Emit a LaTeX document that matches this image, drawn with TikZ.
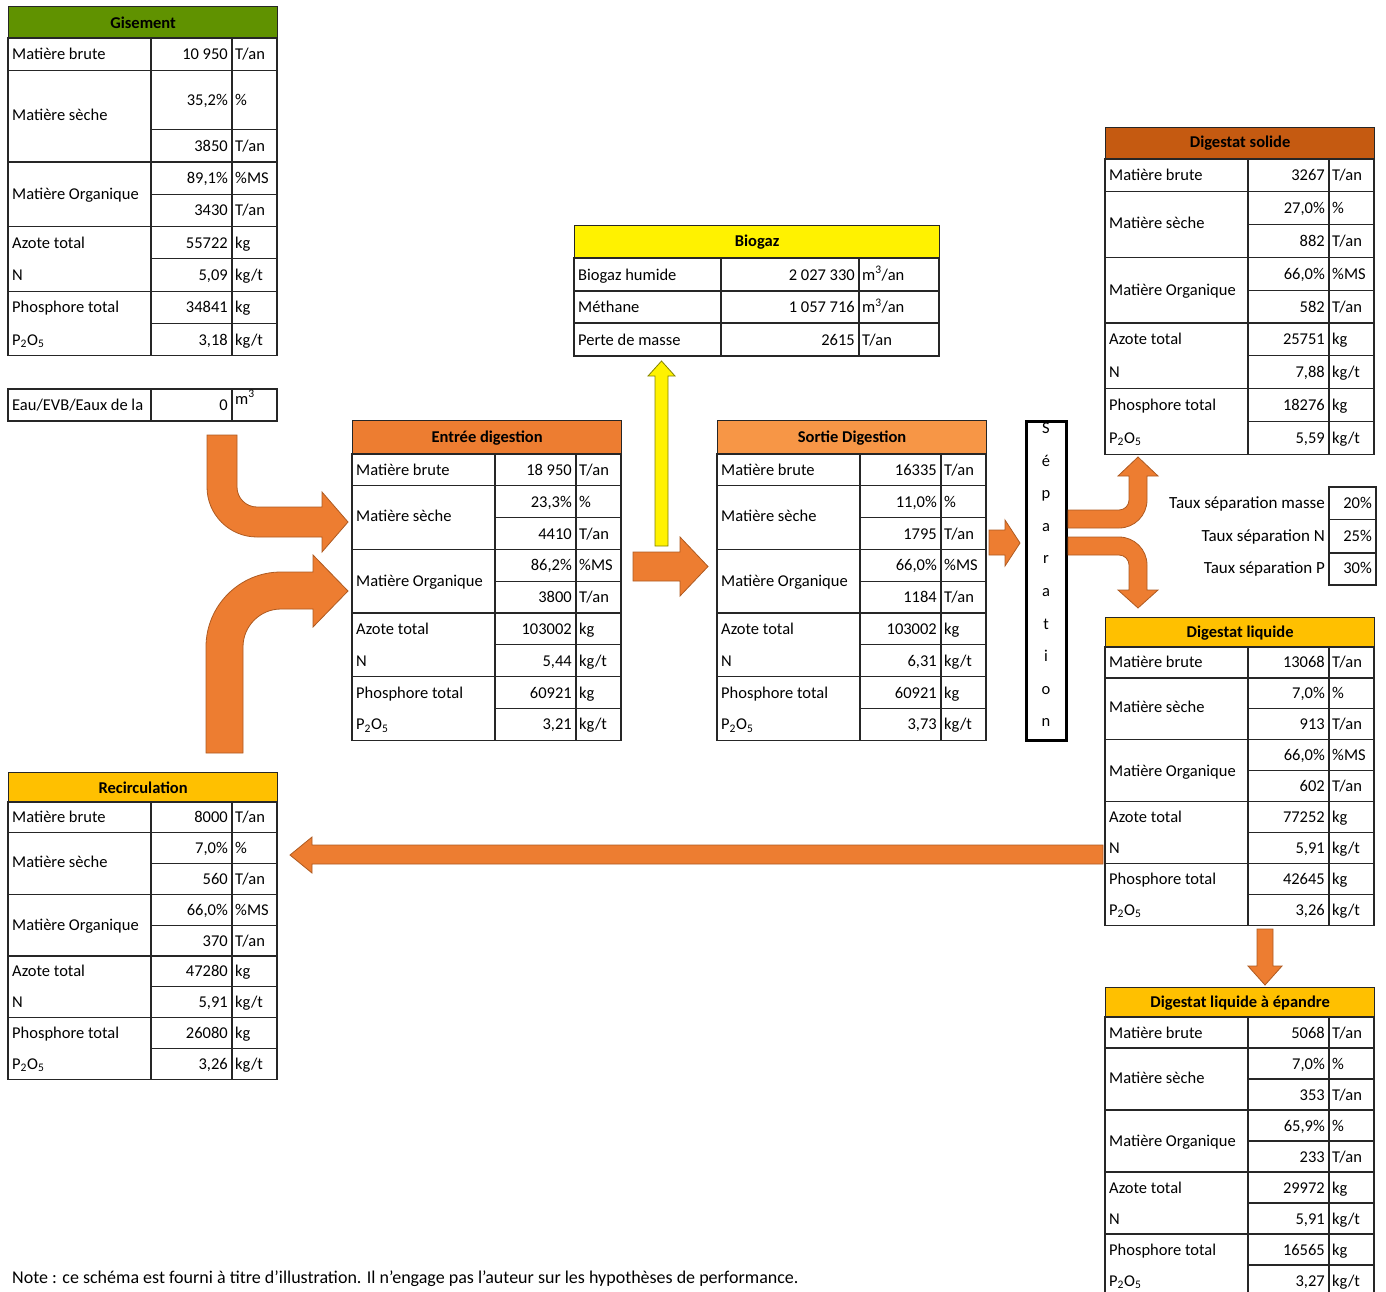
\documentclass[tikz,border=0pt]{standalone}
\usepackage{fontspec}
\setmainfont{Carlito}
\usepackage{xcolor}
\definecolor{gisvert}{RGB}{96,146,0}
\definecolor{entorange}{RGB}{237,125,49}
\definecolor{sortorange}{RGB}{247,150,70}
\definecolor{solbrun}{RGB}{197,90,17}
\definecolor{liqor}{RGB}{255,192,0}
\definecolor{flecheorange}{RGB}{237,125,49}
\definecolor{flechebord}{RGB}{174,90,33}
\definecolor{jaunebord}{RGB}{130,130,0}
\newcommand{\taille}{\fontsize{16.5}{19}\selectfont}

\tikzset{
  grille/.style={draw=black!85, line width=1.2pt},
  entete/.style={draw=black!85, line width=1.2pt, font=\taille\bfseries, inner sep=0pt, minimum width=269},
  lib/.style={anchor=base west, inner sep=0pt},
  val/.style={anchor=base east, inner sep=0pt},
  unite/.style={anchor=base west, inner sep=0pt},
  fleche/.style={fill=flecheorange, draw=flechebord, line width=0.8pt},
  flechejaune/.style={fill=yellow, draw=jaunebord, line width=0.8pt}
}

% #1 nom, #2 x, #3 y, #4 haut. entete, #5 haut. ligne, #6 couleur, #7 titre, #8 valeurs, #9 surplus MS
\newcommand{\bilan}[9]{%
  \begin{scope}[shift={(#2,#3)}]
    \node[entete, fill=#6, minimum height=#4, anchor=north west] (#1) at (0,0) {#7};
    \draw[grille] (0,#4) rectangle (269,{#4+9*#5+#9})
      (143,#4) -- (143,{#4+9*#5+#9}) (224,#4) -- (224,{#4+9*#5+#9});
    \foreach \k in {1,3,5,7}
      \draw[grille] (0,{#4+\k*#5+(\k>1)*#9}) -- (269,{#4+\k*#5+(\k>1)*#9});
    \foreach \k in {2,4,6,8}
      \draw[grille] (143,{#4+\k*#5+#9}) -- (269,{#4+\k*#5+#9});
    \node[lib] (#1-mb) at (4,{#4+0.5*#5+5.5}) {Matière brute};
    \node[lib] (#1-ms) at (4,{#4+2*#5+0.5*#9+4}) {Matière sèche};
    \node[lib] (#1-mo) at (4,{#4+4*#5+#9+5.5}) {Matière Organique};
    \node[lib] (#1-az) at (4,{#4+5.5*#5+#9+5.5}) {Azote total};
    \node[lib] (#1-n) at (4,{#4+6.5*#5+#9+5.5}) {N};
    \node[lib] (#1-ph) at (4,{#4+7.5*#5+#9+5.5}) {Phosphore total};
    \node[lib] (#1-p) at (4,{#4+8.5*#5+#9+5.5}) {P\textsubscript{2}O\textsubscript{5}};
    \foreach \vl/\un [count=\row] in {#8} {
      \node[val] (#1-v\row) at (220,{#4+(\row-0.5)*#5+#9*((\row>2)+0.5*(\row==2))+5.5}) {\vl};
      \node[unite] (#1-u\row) at (227,{#4+(\row-0.5)*#5+#9*((\row>2)+0.5*(\row==2))+5.5}) {\un};
    }
  \end{scope}}

\begin{document}
\begin{tikzpicture}[x=1pt, y=-1pt, font=\taille]
  \path[use as bounding box] (0,0) rectangle (1386,1291);
  \clip (0,0) rectangle (1386,1291);

  % tableaux de bilan
  \bilan{gis}{8}{6}{32}{32.3}{gisvert}{Gisement}
    {{10 950}/{T/an}, {35,2\%}/\%, 3850/{T/an}, {89,1\%}/\%MS, 3430/{T/an},
     55722/kg, {5,09}/{kg/t}, 34841/kg, {3,18}/{kg/t}}{27}
  \bilan{ent}{352}{420}{34}{31.8}{entorange}{Entrée digestion}
    {{18 950}/{T/an}, {23,3\%}/\%, 4410/{T/an}, {86,2\%}/\%MS, 3800/{T/an},
     103002/kg, {5,44}/{kg/t}, 60921/kg, {3,21}/{kg/t}}{0}
  \bilan{sor}{717}{420}{34}{31.8}{sortorange}{Sortie Digestion}
    {16335/{T/an}, {11,0\%}/\%, 1795/{T/an}, {66,0\%}/\%MS, 1184/{T/an},
     103002/kg, {6,31}/{kg/t}, 60921/kg, {3,73}/{kg/t}}{0}
  \bilan{sol}{1105}{127}{32}{32.8}{solbrun}{Digestat solide}
    {3267/{T/an}, {27,0\%}/\%, 882/{T/an}, {66,0\%}/\%MS, 582/{T/an},
     25751/kg, {7,88}/{kg/t}, 18276/kg, {5,59}/{kg/t}}{0}
  \bilan{liq}{1105}{617}{30}{30.9}{liqor}{Digestat liquide}
    {13068/{T/an}, {7,0\%}/\%, 913/{T/an}, {66,0\%}/\%MS, 602/{T/an},
     77252/kg, {5,91}/{kg/t}, 42645/kg, {3,26}/{kg/t}}{0}
  \bilan{epa}{1105}{987}{30}{31}{liqor}{Digestat liquide à épandre}
    {5068/{T/an}, {7,0\%}/\%, 353/{T/an}, {65,9\%}/\%, 233/{T/an},
     29972/kg, {5,91}/{kg/t}, 16565/kg, {3,27}/{kg/t}}{0}
  \bilan{rec}{8}{772}{30}{30.8}{liqor}{Recirculation}
    {8000/{T/an}, {7,0\%}/\%, 560/{T/an}, {66,0\%}/\%MS, 370/{T/an},
     47280/kg, {5,91}/{kg/t}, 26080/kg, {3,26}/{kg/t}}{0}

  % biogaz
  \node[entete, fill=yellow, minimum width=365, minimum height=33, anchor=north west] (bio) at (574,225) {Biogaz};
  \draw[grille] (574,258) rectangle (939,356) (574,291) -- (939,291) (574,323) -- (939,323)
    (721,258) -- (721,356) (859,258) -- (859,356);
  \node[lib] (bio-l1) at (578,280) {Biogaz humide};
  \node[lib] (bio-l2) at (578,312.5) {Méthane};
  \node[lib] (bio-l3) at (578,345) {Perte de masse};
  \node[val] (bio-v1) at (855,280) {2 027 330};
  \node[val] (bio-v2) at (855,312.5) {1 057 716};
  \node[val] (bio-v3) at (855,345) {2615};
  \node[unite] (bio-u1) at (862,280) {m\textsuperscript{3}/an};
  \node[unite] (bio-u2) at (862,312.5) {m\textsuperscript{3}/an};
  \node[unite] (bio-u3) at (862,345) {T/an};

  % eau
  \draw[grille] (8,389) rectangle (277,421) (151,389) -- (151,421) (232,389) -- (232,421);
  \begin{scope}
    \clip (8,389) rectangle (150,421);
    \node[lib] (eau) at (12,410.5) {Eau/EVB/Eaux de la};
  \end{scope}
  \node[val] (eau-v) at (228,410.5) {0};
  \node[unite] (eau-u) at (235,404) {m\textsuperscript{3}};

  % separation
  \begin{scope}
    \clip (1027.5,422.5) rectangle (1064.5,739);
    \foreach \lettre [count=\row] in {S,é,p,a,r,a,t,i,o,n}
      \node[anchor=base, inner sep=0pt] (sep-\row) at (1046,{433.5+32.6*(\row-1)}) {\lettre};
  \end{scope}
  \draw[line width=3pt] (1026,421) rectangle (1066,740);

  % taux de separation
  \draw[grille] (1329,487) rectangle (1376,585) (1329,519.5) -- (1376,519.5) (1329,553) -- (1376,553);
  \node[val, font=\fontsize{17}{19}\selectfont] (taux-l1) at (1325,508.5) {Taux séparation masse};
  \node[val, font=\fontsize{17}{19}\selectfont] (taux-l2) at (1325,541.5) {Taux séparation N};
  \node[val, font=\fontsize{17}{19}\selectfont] (taux-l3) at (1325,573.5) {Taux séparation P};
  \node[val] (taux-v1) at (1372,508.5) {20\%};
  \node[val] (taux-v2) at (1372,541.5) {25\%};
  \node[val] (taux-v3) at (1372,573.5) {30\%};

  % fleches
  \filldraw[fleche] (237,435) -- (207,435) -- (207,487) arc[start angle=180, end angle=90, radius=50]
    -- (322,537) -- (322,552) -- (348,522) -- (322,492) -- (322,507) -- (257,507)
    arc[start angle=90, end angle=180, radius=20] -- cycle;
  \filldraw[fleche] (206,753) -- (206,647) arc[start angle=180, end angle=270, radius=75]
    -- (313,572) -- (313,555) -- (348,591) -- (313,627) -- (313,609) -- (281,609)
    arc[start angle=270, end angle=180, radius=38] -- (243,753) -- cycle;
  \filldraw[fleche] (633,552) -- (680,552) -- (680,537) -- (708,566.5) -- (680,596) -- (680,581) -- (633,581) -- cycle;
  \filldraw[flechejaune] (655,546) -- (655,376) -- (648,376) -- (661.5,361) -- (675,376) -- (668,376) -- (668,546) -- cycle;
  \filldraw[fleche] (989,530) -- (1005,530) -- (1005,520) -- (1020,543) -- (1005,566) -- (1005,555) -- (989,555) -- cycle;
  \filldraw[fleche] (1068,510) -- (1119,510) arc[start angle=90, end angle=0, radius=10]
    -- (1129,476) -- (1118,476) -- (1138,457) -- (1158,476) -- (1147,476) -- (1147,500)
    arc[start angle=0, end angle=90, radius=28] -- (1068,528) -- cycle;
  \filldraw[fleche] (1068,537) -- (1119,537) arc[start angle=270, end angle=360, radius=28]
    -- (1147,590) -- (1158,590) -- (1138,608) -- (1118,590) -- (1129,590) -- (1129,565)
    arc[start angle=0, end angle=-90, radius=10] -- (1068,555) -- cycle;
  \filldraw[fleche] (1257,929) -- (1273,929) -- (1273,966) -- (1282,966) -- (1265,985) -- (1248,966) -- (1257,966) -- cycle;
  \filldraw[fleche] (1103,845) -- (312,845) -- (312,837) -- (290,855) -- (312,873) -- (312,864) -- (1103,864) -- cycle;

  \node[lib, font=\fontsize{18}{21}\selectfont] (note) at (12,1283) {Note : ce schéma est fourni à titre d'illustration. Il n'engage pas l'auteur sur les hypothèses de performance.};
\end{tikzpicture}
\end{document}
